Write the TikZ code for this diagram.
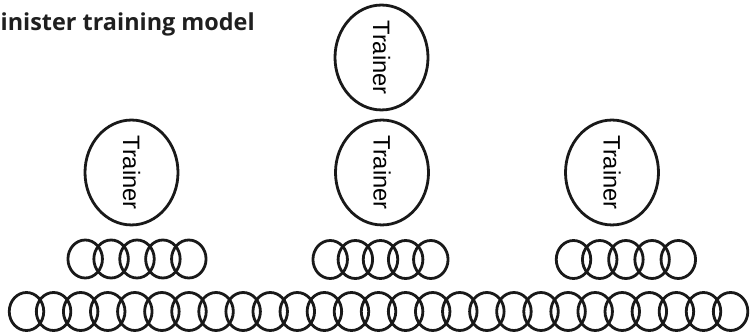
\documentclass[tikz,border=0pt]{standalone}
\usepackage{fontspec}
\setmainfont{Liberation Sans}
\newfontfamily\titlefont{Open Sans}
\usetikzlibrary{shapes.geometric}
\tikzset{
  ring/.style={ellipse, draw=black!90, line width=2.8pt, inner sep=0pt,
               minimum width=34.5pt, minimum height=38pt},
  trainer/.style={ellipse, draw=black!90, line width=2.8pt, inner sep=0pt,
               minimum width=93pt, minimum height=97.5pt,
               font=\fontsize{23.7}{28}\selectfont},
  titletext/.style={anchor=base west, inner sep=0pt, font=\titlefont\bfseries, text=black!88}
}
\begin{document}
\begin{tikzpicture}[x=1pt, y=-1pt]
\useasboundingbox (0,0) rectangle (752,336);
% title
\node[titletext] (title) at (0.5,31) {\resizebox{254pt}{!}{inister training model}};
% trainers
\node[trainer] (t0) at (381.5,57.5) {\rotatebox{-90}{Trainer}};
\node[trainer] (t1) at (131.5,172.5) {\rotatebox{-90}{Trainer}};
\node[trainer] (t2) at (382,172.5) {\rotatebox{-90}{Trainer}};
\node[trainer] (t3) at (612,172.5) {\rotatebox{-90}{Trainer}};
% groups
\foreach \i in {0,...,4} {
  \node[ring] (ga\i) at ({85.2+25.9*\i},259) {};
  \node[ring] (gb\i) at ({330.2+25.15*\i},259.5) {};
  \node[ring] (gc\i) at ({573.5+26.2*\i},259.5) {};
}
% bottom row
\foreach \k in {0,...,26} {
  \node[ring] (b\k) at ({26.5+27.08*\k},311.5) {};
}
\end{tikzpicture}
\end{document}
